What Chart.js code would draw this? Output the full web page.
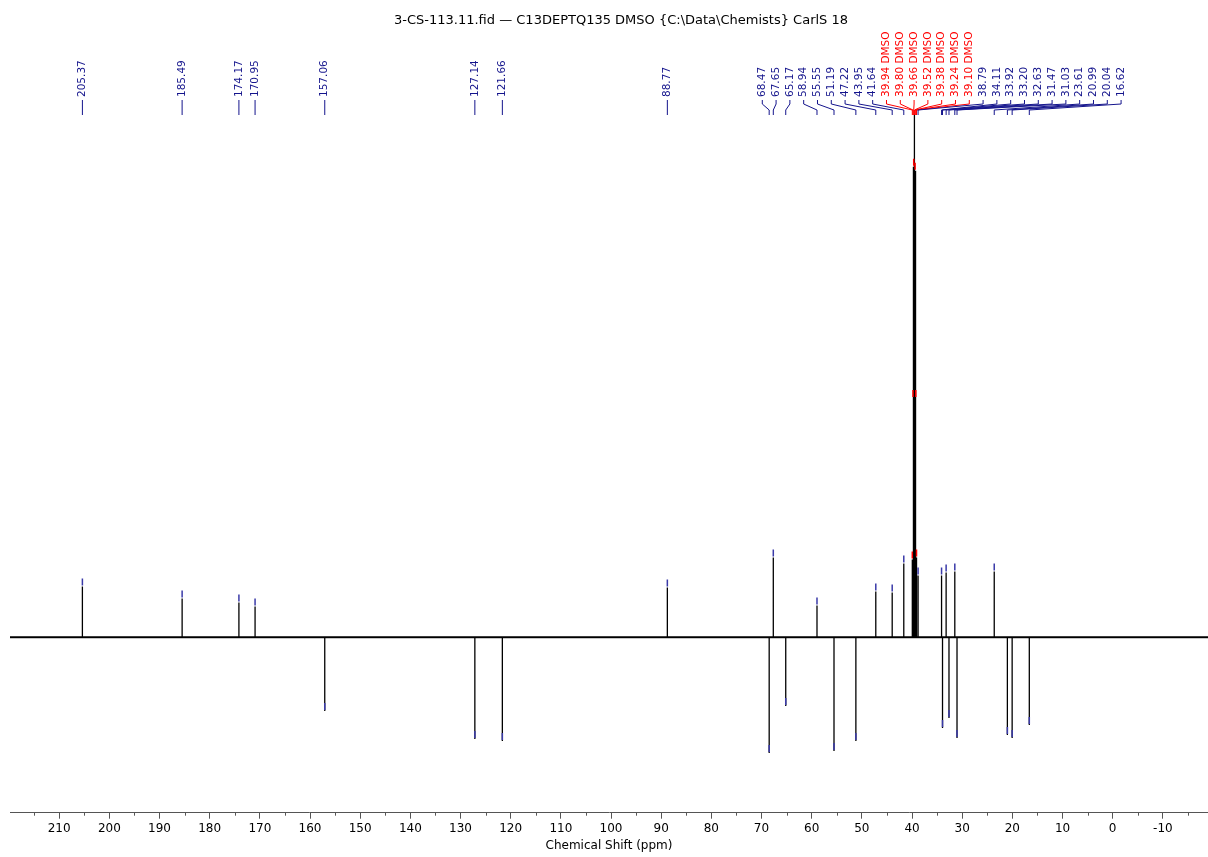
<!DOCTYPE html>
<html>
<head>
<meta charset="utf-8">
<title>3-CS-113.11 DEPTQ135</title>
<script src="https://cdn.jsdelivr.net/npm/chart.js@4/dist/chart.umd.min.js"></script>
<style>
  html, body { margin: 0; padding: 0; background: #fff; }
  #wrap { width: 1208px; height: 857px; position: relative; }
</style>
</head>
<body>
<div id="wrap"><canvas id="spectrum"></canvas></div>
<script>
'use strict';

// ── Data ──────────────────────────────────────────────────────────────────────

const TITLE = '3-CS-113.11.fid \u2014 C13DEPTQ135 DMSO {C:\\Data\\Chemists} CarlS 18';
const AXIS_TITLE = 'Chemical Shift (ppm)';

// peak positions (ppm), left to right
const shifts = [
  205.37, 185.49, 174.17, 170.95, 157.06, 127.14, 121.66, 88.77,
  68.47, 67.65, 65.17, 58.94, 55.55, 51.19, 47.22, 43.95, 41.64,
  39.94, 39.80, 39.66, 39.52, 39.38, 39.24, 39.10,
  38.79, 34.11, 33.92, 33.20, 32.63, 31.47, 31.03, 23.61, 20.99, 20.04, 16.62,
];

// peak intensities (arb. units, DEPTQ phase: negative = CH/CH3 down)
const intensities = [
  51, 39, 35, 31, -74, -102, -104, 50,
  -116, 80, -69, 32, -114, -104, 46, 45, 74,
  78, 240, 472, 560, 468, 240, 80,
  62, 62, -91, 65, -81, 66, -101, 66, -98, -101, -88,
];

// solvent tag per peak ('' for compound peaks)
const peakTags = [
  '', '', '', '', '', '', '', '',
  '', '', '', '', '', '', '', '', '',
  'DMSO', 'DMSO', 'DMSO', 'DMSO', 'DMSO', 'DMSO', 'DMSO',
  '', '', '', '', '', '', '', '', '', '', '',
];

// labelled axis ticks (ppm)
const tickValues = [210, 200, 190, 180, 170, 160, 150, 140, 130, 120, 110, 100,
  90, 80, 70, 60, 50, 40, 30, 20, 10, 0, -10];

const xMax = 219.8;
const xMin = -19;
const yMax = 525;
const yMin = -176;

// ── Styling ───────────────────────────────────────────────────────────────────

const FONT = "'DejaVu Sans', Verdana, sans-serif";
const BLUE = '#14148c';
const RED = '#ff0000';
const AXIS_GREY = '#555';
const LABEL_GAP = 13.8;

Chart.defaults.font.family = FONT;
Chart.defaults.font.size = 12;
Chart.defaults.color = '#000';

function fmtShift(v) {
  return v.toFixed(2);
}

function tagColor(i) {
  return peakTags[i] ? RED : BLUE;
}

// stick spectrum: every peak is a spike up/down from the zero line
function spectrumPoints() {
  const pts = [{ x: xMax, y: 0 }];
  shifts.forEach((p, i) => {
    pts.push({ x: p, y: 0 }, { x: p, y: intensities[i] }, { x: p, y: 0 });
  });
  pts.push({ x: xMin, y: 0 });
  return pts;
}

// spread labels: merge overlapping groups, centre each group on its peaks,
// then keep a group from drifting more than half a slot left of its first peak
function labelPositions(xScale) {
  const px = shifts.map(p => xScale.getPixelForValue(p));
  const clusters = px.map((_, i) => ({ first: i, last: i }));

  const place = c => {
    const n = c.last - c.first + 1;
    let mean = 0;
    for (let i = c.first; i <= c.last; i++) mean += px[i];
    mean /= n;
    c.start = mean - (n - 1) * LABEL_GAP / 2;
    c.end = c.start + (n - 1) * LABEL_GAP;
  };

  let merged = true;
  while (merged) {
    merged = false;
    clusters.forEach(place);
    for (let k = 0; k < clusters.length - 1; k++) {
      if (clusters[k].end + LABEL_GAP > clusters[k + 1].start + 0.01) {
        clusters[k].last = clusters[k + 1].last;
        clusters.splice(k + 1, 1);
        merged = true;
        break;
      }
    }
  }

  const out = [];
  clusters.forEach(c => {
    const start = c.first === c.last ? c.start : Math.max(c.start, px[c.first] - LABEL_GAP / 2);
    for (let i = c.first; i <= c.last; i++) out[i] = start + (i - c.first) * LABEL_GAP;
  });
  return out;
}

// ── Plugin: title, minor ticks, peak markers and labels ───────────────────────

const peakAnnotations = {
  id: 'peakAnnotations',

  afterDatasetsDraw(chart) {
    const { ctx, chartArea: a, scales: { x, y } } = chart;
    ctx.save();
    ctx.beginPath();
    ctx.rect(a.left, a.top, a.right - a.left, a.bottom - a.top);
    ctx.clip();
    ctx.lineWidth = 1.5;
    shifts.forEach((p, i) => {
      const px = x.getPixelForValue(p);
      const py = y.getPixelForValue(intensities[i]);
      if (py < a.top) return;
      ctx.strokeStyle = peakTags[i] ? RED : '#3a3aa8';
      ctx.beginPath();
      ctx.moveTo(px, py - 8);
      ctx.lineTo(px, py - 1);
      ctx.stroke();
    });
    ctx.restore();
  },

  afterDraw(chart) {
    const { ctx, chartArea: a, scales: { x } } = chart;
    ctx.save();

    // title
    ctx.fillStyle = '#000';
    ctx.font = `13px ${FONT}`;
    ctx.textAlign = 'center';
    ctx.textBaseline = 'middle';
    ctx.fillText(TITLE, 621, 21);

    // minor ticks every 5 ppm
    ctx.strokeStyle = AXIS_GREY;
    ctx.lineWidth = 1;
    for (let v = Math.ceil(xMin / 5) * 5; v <= xMax; v += 5) {
      if (v % 10 === 0) continue;
      const px = Math.round(x.getPixelForValue(v)) + 0.5;
      ctx.beginPath();
      ctx.moveTo(px, a.bottom);
      ctx.lineTo(px, a.bottom + 3);
      ctx.stroke();
    }

    // peak labels + connectors
    const lx = labelPositions(x);
    const textY = a.top - 17;
    ctx.font = `10.5px ${FONT}`;
    ctx.lineWidth = 1;
    shifts.forEach((p, i) => {
      const px = x.getPixelForValue(p);
      const color = tagColor(i);

      ctx.strokeStyle = color;
      ctx.beginPath();
      ctx.moveTo(lx[i], a.top - 14);
      ctx.lineTo(lx[i], a.top - 10);
      ctx.lineTo(px, a.top - 4);
      ctx.lineTo(px, a.top + 1);
      ctx.stroke();

      const text = fmtShift(p) + (peakTags[i] ? ' ' + peakTags[i] : '');
      ctx.save();
      ctx.translate(lx[i], textY);
      ctx.rotate(-Math.PI / 2);
      ctx.fillStyle = color;
      ctx.textAlign = 'left';
      ctx.textBaseline = 'middle';
      ctx.fillText(text, 0, 0);
      ctx.restore();
    });

    ctx.restore();
  },
};

// ── Chart ─────────────────────────────────────────────────────────────────────

new Chart(document.getElementById('spectrum'), {
  type: 'line',
  data: {
    datasets: [
      {
        data: spectrumPoints(),
        borderColor: '#000',
        borderWidth: 1.3,
        pointRadius: 0,
        tension: 0,
        order: 1,
      },
      {
        data: [{ x: xMax, y: 0 }, { x: xMin, y: 0 }],
        borderColor: '#1c1c1c',
        borderWidth: 2,
        pointRadius: 0,
        order: 2,
      },
    ],
  },
  options: {
    responsive: true,
    maintainAspectRatio: false,
    animation: false,
    layout: { padding: { top: 114, left: 10, right: 0, bottom: 3.5 } },
    plugins: { legend: { display: false }, tooltip: { enabled: false } },
    scales: {
      x: {
        type: 'linear',
        reverse: true,
        min: xMin,
        max: xMax,
        border: { display: true, color: AXIS_GREY, width: 1 },
        grid: { drawOnChartArea: false, drawTicks: true, tickLength: 6, color: AXIS_GREY },
        ticks: { padding: 3, maxRotation: 0, autoSkip: false, color: '#000' },
        afterBuildTicks: scale => {
          scale.ticks = tickValues.map(value => ({ value }));
        },
        title: { display: true, text: AXIS_TITLE, color: '#000', padding: { top: 0, bottom: 0 } },
      },
      y: {
        display: false,
        min: yMin,
        max: yMax,
      },
    },
  },
  plugins: [peakAnnotations],
});
</script>
</body>
</html>
